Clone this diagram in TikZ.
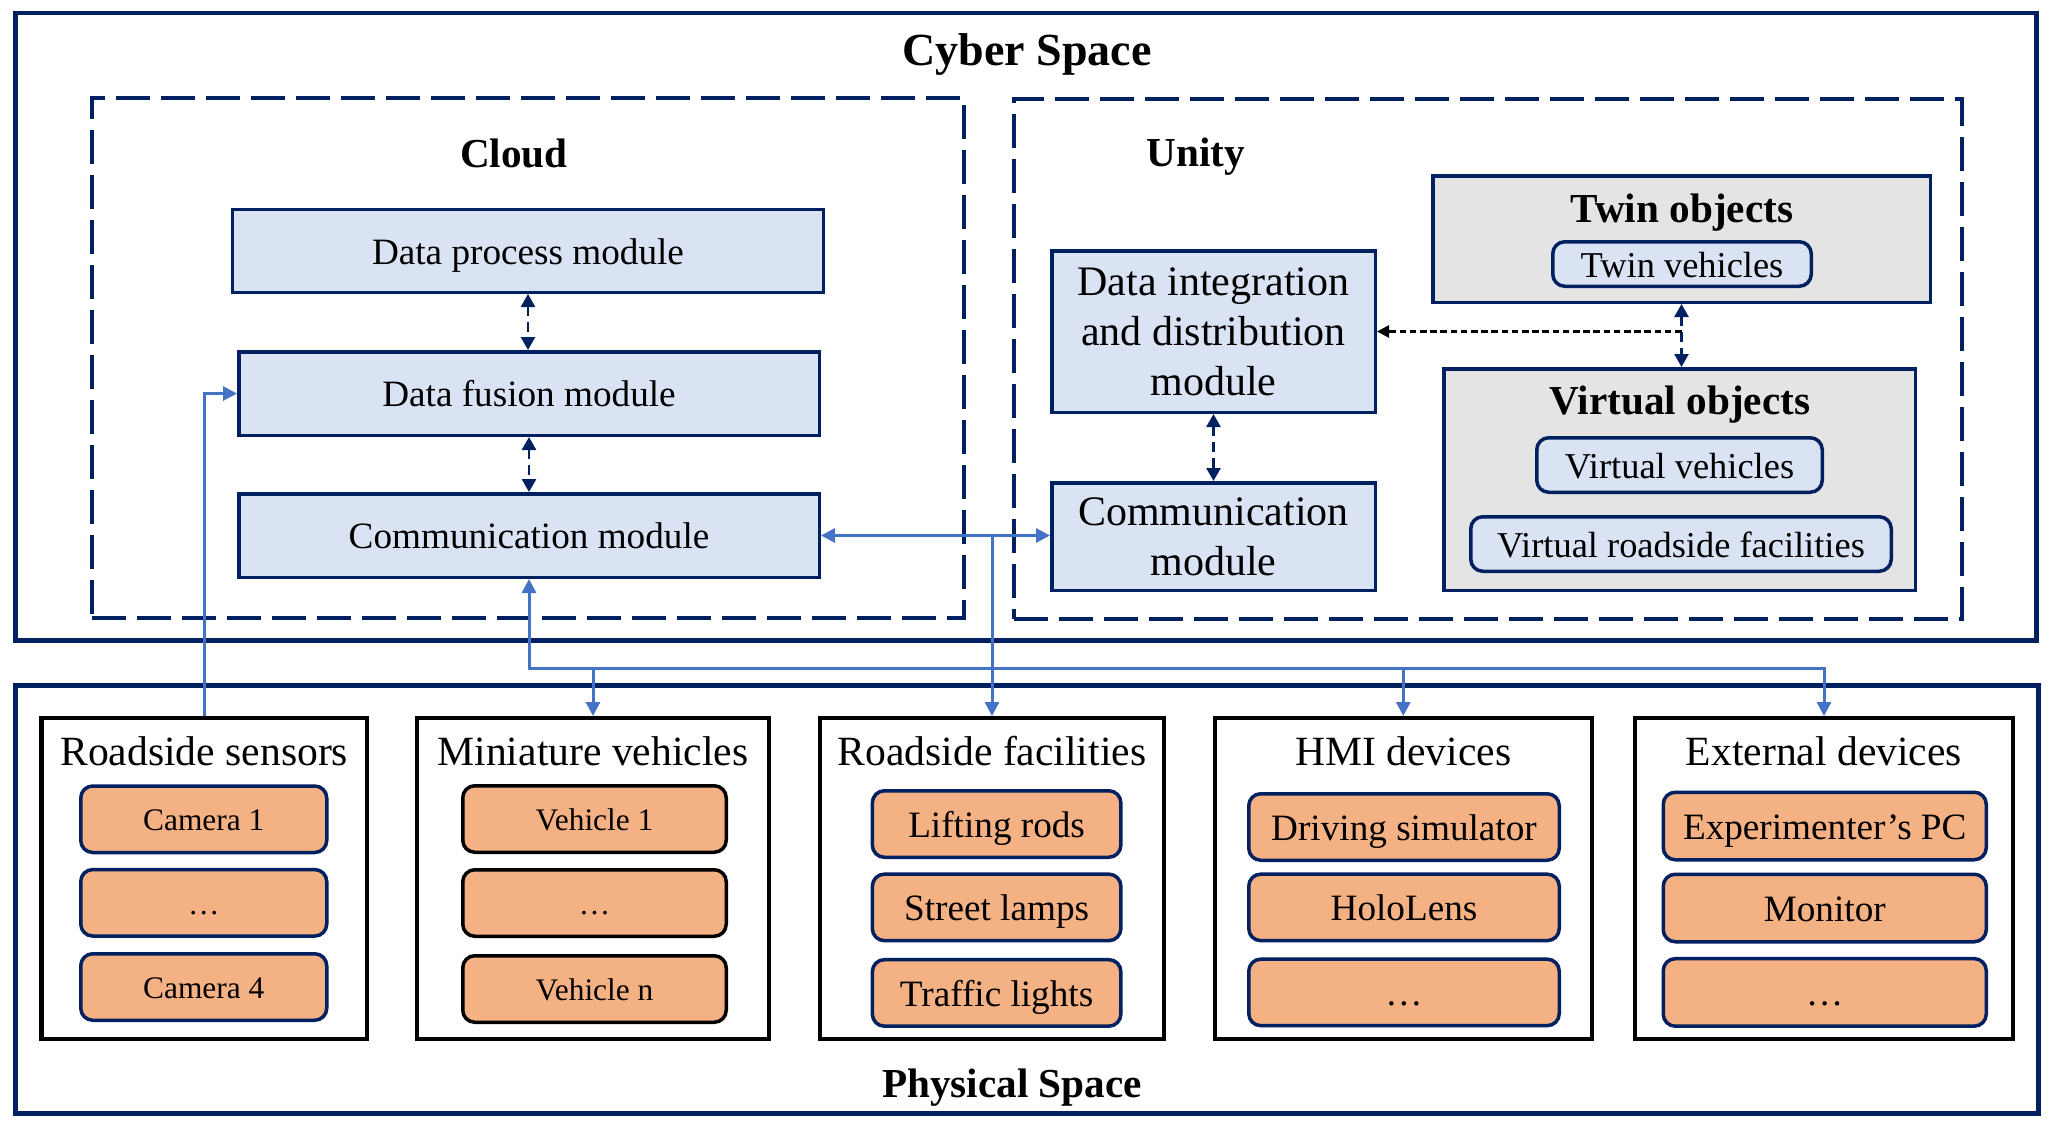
\documentclass[tikz,border=0pt]{standalone}
\usepackage{fontspec}
\setmainfont{Liberation Serif}
\usetikzlibrary{arrows.meta}
\definecolor{navy}{HTML}{002060}
\definecolor{lblue}{HTML}{DAE3F3}
\definecolor{lgray}{HTML}{E4E4E4}
\definecolor{orng}{HTML}{F4B183}
\definecolor{cblue}{HTML}{4472C4}
\begin{document}
\begin{tikzpicture}[x=0.5pt,y=-0.5pt,
  outerbox/.style={draw=navy, line width=2.4pt, inner sep=0pt},
  dbox/.style={draw=navy, line width=2.2pt, dash pattern=on 17pt off 5.5pt, inner sep=0pt},
  bigttl/.style={font=\bfseries\fontsize{23}{27}\selectfont, inner sep=0pt},
  subttl/.style={font=\bfseries\fontsize{20.6}{24}\selectfont, inner sep=0pt},
  grpttl/.style={font=\fontsize{20.8}{24}\selectfont, inner sep=0pt},
  cmod/.style={draw=navy, fill=lblue, line width=1.75pt, inner sep=0pt,
    font=\fontsize{18.6}{22}\selectfont, text height=14.9pt, text depth=1.5pt},
  umod/.style={draw=navy, fill=lblue, line width=1.75pt, inner sep=0pt, align=center,
    font=\fontsize{21}{25}\selectfont},
  graybox/.style={draw=navy, fill=lgray, line width=1.75pt, inner sep=0pt},
  objitem/.style={draw=navy, fill=lblue, line width=1.75pt, rounded corners=6pt, inner sep=0pt,
    font=\fontsize{18.2}{22}\selectfont, text height=14.6pt, text depth=1.46pt},
  grpbox/.style={draw=black, line width=2.2pt, inner sep=0pt, minimum height=160.3pt},
  smallitem/.style={draw=navy, fill=orng, line width=1.75pt, rounded corners=6pt, inner sep=0pt,
    font=\fontsize{15.7}{19}\selectfont, text height=12.6pt, text depth=1.26pt,
    minimum width=123pt, minimum height=33.25pt},
  vehitem/.style={smallitem, draw=black, minimum width=131.75pt},
  bigitem/.style={draw=navy, fill=orng, line width=1.75pt, rounded corners=6pt, inner sep=0pt,
    font=\fontsize{18.6}{22}\selectfont, text height=14.9pt, text depth=1.5pt,
    minimum height=33.25pt},
  conn/.style={draw=cblue, line width=1.5pt, arrows={-Triangle[length=7pt,width=7pt]}},
  dconn/.style={draw=navy, line width=1.3pt, dash pattern=on 5pt off 3pt,
    arrows={Triangle[length=6.5pt,width=7pt]-Triangle[length=6.5pt,width=7pt]}},
  kconn/.style={draw=black, line width=1.3pt, dash pattern=on 3.3pt off 1.8pt,
    arrows={-Triangle[length=6pt,width=6pt]}}
]
\useasboundingbox (0,0) rectangle (2051,1124);

% outer spaces
\node[outerbox, minimum width=1010.6pt, minimum height=313.85pt] (cyber) at (1026,326.75) {};
\node[outerbox, minimum width=1011.6pt, minimum height=214.1pt] (phys) at (1027,899.5) {};
\node[dbox, minimum width=435.8pt, minimum height=259.8pt] (cloud) at (528,358) {};
\node[dbox, minimum width=473.8pt, minimum height=260pt] (unity) at (1488,358.8) {};

\node[bigttl, anchor=base] (cyberlbl) at (1027,65) {Cyber Space};
\node[subttl, anchor=base] (physlbl) at (1012,1097) {Physical Space};
\node[subttl, anchor=base] (cloudlbl) at (514,167) {Cloud};
\node[subttl, anchor=base] (unitylbl) at (1196,166) {Unity};

% cloud modules
\node[cmod, minimum width=295.45pt, minimum height=41.5pt] (proc) at (528,250.75) {Data process module};
\node[cmod, minimum width=290.25pt, minimum height=41.75pt] (fusion) at (529,393.5) {Data fusion module};
\node[cmod, minimum width=290.25pt, minimum height=41.75pt] (commc) at (529,535.5) {Communication module};

% unity modules
\node[umod, minimum width=161.75pt, minimum height=80.75pt] (dataint) at (1213.5,331.5) {Data integration\\and distribution\\module};
\node[umod, minimum width=161.75pt, minimum height=53.75pt] (commu) at (1213.5,536.5) {Communication\\module};

\node[graybox, minimum width=248.75pt, minimum height=63.25pt] (twin) at (1681.5,239) {};
\node[subttl, anchor=base] (twinlbl) at (1682,222.4) {Twin objects};
\node[objitem, minimum width=129.25pt, minimum height=22.25pt] (twinv) at (1682,264) {Twin vehicles};

\node[graybox, minimum width=235.75pt, minimum height=110.75pt] (virt) at (1679.5,479.5) {};
\node[subttl, anchor=base] (virtlbl) at (1680,414.8) {Virtual objects};
\node[objitem, minimum width=142.75pt, minimum height=27.25pt] (virtv) at (1679.5,465) {Virtual vehicles};
\node[objitem, minimum width=210.25pt, minimum height=27.25pt] (virtr) at (1681,544) {Virtual roadside facilities};

% physical groups
\node[grpbox, minimum width=162.6pt] (sens) at (204.2,878.5) {};
\node[grpbox, minimum width=175.8pt] (mini) at (593,878.5) {};
\node[grpbox, minimum width=171.8pt] (fac) at (992,878.5) {};
\node[grpbox, minimum width=188.55pt] (hmi) at (1403.25,878.5) {};
\node[grpbox, minimum width=188.8pt] (ext) at (1824,878.5) {};

\node[grpttl, anchor=base] (sensttl) at (204.2,765) {Roadside sensors};
\node[grpttl, anchor=base] (minittl) at (593,765) {Miniature vehicles};
\node[grpttl, anchor=base] (facttl) at (992,765) {Roadside facilities};
\node[grpttl, anchor=base] (hmittl) at (1403.25,765) {HMI devices};
\node[grpttl, anchor=base] (extttl) at (1824,765) {External devices};

\node[smallitem] (s1) at (203.75,819.25) {Camera 1};
\node[smallitem] (s2) at (203.75,902.8) {…};
\node[smallitem] (s3) at (203.75,987) {Camera 4};

\node[vehitem] (v1) at (594.5,819) {Vehicle 1};
\node[vehitem] (v2) at (594.5,903) {…};
\node[vehitem] (v3) at (594.5,989) {Vehicle n};

\node[bigitem, minimum width=124.25pt] (f1) at (996.6,824) {Lifting rods};
\node[bigitem, minimum width=124.25pt] (f2) at (996.6,907.4) {Street lamps};
\node[bigitem, minimum width=124.25pt] (f3) at (996.6,992.9) {Traffic lights};

\node[bigitem, minimum width=155.25pt] (h1) at (1404,827) {Driving simulator};
\node[bigitem, minimum width=155.25pt] (h2) at (1404,907.4) {HoloLens};
\node[bigitem, minimum width=155.25pt] (h3) at (1404,992.4) {…};

\node[bigitem, minimum width=161.5pt, minimum height=33.75pt] (e1) at (1824.75,826) {Experimenter’s PC};
\node[bigitem, minimum width=161.5pt, minimum height=33.75pt] (e2) at (1824.75,908) {Monitor};
\node[bigitem, minimum width=161.5pt, minimum height=33.75pt] (e3) at (1824.75,992.4) {…};

% connectors
\coordinate (bus) at (529,668);
\draw[dconn] (proc.south) -- (proc.south |- fusion.north);
\draw[dconn] (fusion.south) -- (fusion.south |- commc.north);
\draw[dconn] (dataint.south) -- (dataint.south |- commu.north);
\draw[dconn] (twin.south) -- (twin.south |- virt.north);
\draw[kconn] (twin.south |- dataint.east) -- (dataint.east);

\draw[conn] (sens.north) |- (fusion.west);
\draw[conn, arrows={Triangle[length=7pt,width=7pt]-Triangle[length=7pt,width=7pt]}]
  (commc.south) -- (commc.south |- bus) -| (ext.north);
\draw[conn] (bus -| mini.north) -- (mini.north);
\draw[conn] (bus -| hmi.north) -- (hmi.north);
\draw[conn, arrows={Triangle[length=7pt,width=7pt]-Triangle[length=7pt,width=7pt]}]
  (commc.east) -- (commc.east -| commu.west);
\draw[conn] (commc.east -| fac.north) -- (fac.north);
\end{tikzpicture}
\end{document}
